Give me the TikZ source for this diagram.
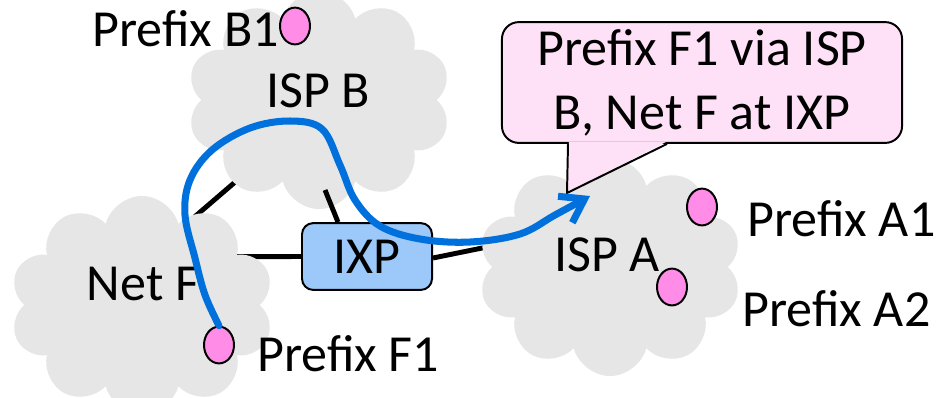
\documentclass[tikz,border=0pt]{standalone}
\usepackage{fontspec}
\setmainfont{Carlito}
\usepackage{tikz}
\definecolor{cloudgray}{HTML}{E6E6E6}
\definecolor{prefixpink}{HTML}{FF8DE8}
\definecolor{ixpblue}{HTML}{9CC8FA}
\definecolor{bubblepink}{HTML}{FFE1F7}
\definecolor{routeblue}{HTML}{0070DC}
\usetikzlibrary{shapes.symbols, shapes.geometric, arrows.meta, backgrounds}
\tikzstyle{netcloud} = [cloud, cloud puffs=10, cloud ignores aspect, fill=cloudgray, 
minimum width=6.6cm, minimum height=5.45cm, inner sep=0pt]
\tikzstyle{prefixdot} = [ellipse, draw, line width=1.4pt, fill=prefixpink, 
minimum width=0.75cm, minimum height=0.92cm, inner sep=0pt]
\tikzstyle{ixpbox} = [rectangle, draw, line width=1.4pt, fill=ixpblue, 
rounded corners=8pt, minimum width=3.25cm, minimum height=1.67cm, inner sep=0pt]
\tikzstyle{bubble} = [rectangle, draw, line width=1.4pt, fill=bubblepink, 
rounded corners=12pt, minimum width=10cm, minimum height=3.02cm, align=center]
\tikzstyle{tagtext} = [inner sep=0pt]
\tikzstyle{linkline} = [line width=3.5pt]
\tikzstyle{routeline} = [routeblue, line width=5pt, line cap=round, line join=round, 
-{Straight Barb[length=0.55cm, width=0.75cm]}]

\begin{document}
\begin{tikzpicture}[x=0.025cm, y=-0.025cm, font=\fontsize{37}{45.5}\selectfont]
	\useasboundingbox (0,0) rectangle (940,397);
	% the three networks
	\node (ISPB) [netcloud] at (319,100) {};
	\node (NetF) [netcloud] at (142,305) {};
	\node (ISPA) [netcloud] at (610,267) {};
	\node (ISPBtext) [tagtext] at (318,91) {ISP B};
	\node (NetFtext) [tagtext] at (143,284) {Net F};
	\node (ISPAtext) [tagtext] at (607,255) {ISP A};
	\node (IXP) [ixpbox] at (367,256.5) {IXP};
	
	\begin{pgfonlayer}{background}
	\draw [linkline] ([shift={(0,-43)}]NetF.center) -- ([shift={(0,10)}]ISPB.center);
	\draw [linkline] ([shift={(0,-48)}]NetF.center) -- (IXP.west);
	\draw [linkline] ([shift={(0,1.5)}]IXP.east) -- ([shift={(0,-45)}]ISPA.center);
	\end{pgfonlayer}
	\draw [linkline] ([shift={(6,90)}]ISPB.center) -- ([shift={(-29,0)}]IXP.north);
	
	% prefixes
	\node (B1) [prefixdot] at (295,26) {};
	\node (F1) [prefixdot] at (219,345) {};
	\node (A1) [prefixdot] at (702,207) {};
	\node (A2) [prefixdot] at (672,287) {};
	\node (B1text) [tagtext, anchor=east] at (279,29) {Prefix B1};
	\node (F1text) [tagtext, anchor=west] at (257,354) {Prefix F1};
	\node (A1text) [tagtext, anchor=west] at (747,219) {Prefix A1};
	\node (A2text) [tagtext, anchor=west] at (742,309) {Prefix A2};
	
	% the announcement
	\node (Say) [bubble] at (702,82.5) {Prefix F1 via ISP\\B, Net F at IXP};
	\coordinate (SayTip) at (567,193);
	\fill [bubblepink] ([shift={(-133,-2)}]Say.south) -- (SayTip) -- ([shift={(-36,-2)}]Say.south) -- cycle;
	\draw [line width=1.4pt] ([shift={(-134,0)}]Say.south) -- (SayTip) -- ([shift={(-35,0)}]Say.south);
	
	\coordinate (RouteEnd) at (590,196);
	\draw [routeline] plot [smooth, tension=0.6] coordinates {(F1.north) (205,295) (195,258) (185,215) (190,180) (212,150) (250,128) (290,121) (322,129) (340,165) (355,200) (380,226) (420,239) (470,242) (520,234) (555,215) (RouteEnd)};
\end{tikzpicture}
\end{document}
